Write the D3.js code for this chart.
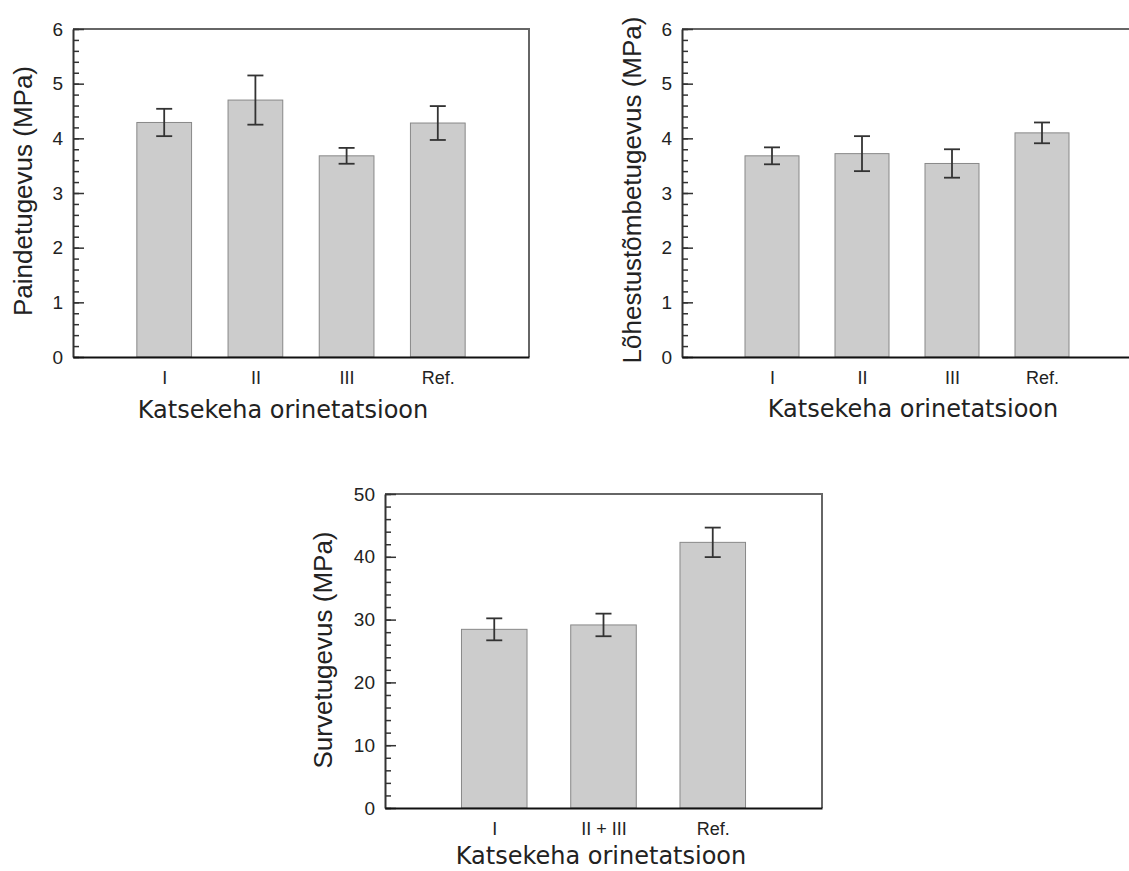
<!DOCTYPE html>
<html>
<head>
<meta charset="utf-8">
<script src="https://cdn.jsdelivr.net/npm/d3@7"></script>
<style>
  body { margin: 0; background: #fff; }
  .tick text { font-family: "Liberation Sans", Arial, sans-serif; fill: #222; }
  .ytitle { font-family: "Liberation Sans", Arial, sans-serif; font-size: 26px; fill: #222; }
  .xtitle { font-family: "DejaVu Sans", Verdana, sans-serif; font-size: 24px; fill: #222; }
</style>
</head>
<body>
<script>
// chart 1: bending strength
var bendCats = ["I", "II", "III", "Ref."];
var bendVals = [4.29, 4.70, 3.68, 4.28];
var bendErr = [0.25, 0.45, 0.145, 0.31];

// chart 2: splitting tensile strength
var splitCats = ["I", "II", "III", "Ref."];
var splitVals = [3.68, 3.72, 3.54, 4.10];
var splitErr = [0.155, 0.32, 0.26, 0.19];

// chart 3: compressive strength
var compCats = ["I", "II + III", "Ref."];
var compVals = [28.45, 29.15, 42.3];
var compErr = [1.75, 1.8, 2.35];

var yTicks6 = [0, 1, 2, 3, 4, 5, 6];
var yTicks50 = [0, 10, 20, 30, 40, 50];

var svg = d3.select("body").append("svg")
    .attr("width", 1129)
    .attr("height", 871);

function drawChart(opt) {
    var g = svg.append("g");
    var n = opt.cats.length;

    var x = d3.scaleLinear().domain([0, n + 1]).range([opt.left, opt.right]);
    var y = d3.scaleLinear().domain([0, opt.ymax]).range([opt.bottom, opt.top]);
    var barW = x(0.6) - x(0);

    // frame (top + right)
    g.append("path")
        .attr("d", "M" + opt.left + "," + opt.top + "H" + opt.right + "V" + opt.bottom)
        .attr("fill", "none")
        .attr("stroke", "#666")
        .attr("stroke-width", 2);

    // bars
    g.selectAll("rect.bar")
        .data(opt.vals)
        .enter()
        .append("rect")
        .attr("class", "bar")
        .attr("x", function(d, i) { return x(i + 1) - barW / 2; })
        .attr("y", function(d) { return y(d); })
        .attr("width", barW)
        .attr("height", function(d) { return y(0) - y(d); })
        .attr("fill", "#cccccc")
        .attr("stroke", "#888")
        .attr("stroke-width", 1);

    // error bars
    var capW = 8;
    var eb = g.selectAll("g.err")
        .data(opt.vals)
        .enter()
        .append("g")
        .attr("class", "err")
        .attr("stroke", "#333")
        .attr("stroke-width", 1.8);
    eb.append("line")
        .attr("x1", function(d, i) { return x(i + 1); })
        .attr("x2", function(d, i) { return x(i + 1); })
        .attr("y1", function(d, i) { return y(d + opt.err[i]); })
        .attr("y2", function(d, i) { return y(d - opt.err[i]); });
    eb.append("line")
        .attr("x1", function(d, i) { return x(i + 1) - capW; })
        .attr("x2", function(d, i) { return x(i + 1) + capW; })
        .attr("y1", function(d, i) { return y(d + opt.err[i]); })
        .attr("y2", function(d, i) { return y(d + opt.err[i]); });
    eb.append("line")
        .attr("x1", function(d, i) { return x(i + 1) - capW; })
        .attr("x2", function(d, i) { return x(i + 1) + capW; })
        .attr("y1", function(d, i) { return y(d - opt.err[i]); })
        .attr("y2", function(d, i) { return y(d - opt.err[i]); });

    // minor y ticks
    var minor = d3.range(0, opt.ymax + 1e-9, opt.ymax / (opt.yTicks.length - 1) / 5);
    g.append("g")
        .attr("transform", "translate(" + opt.left + ",0)")
        .call(d3.axisLeft(y).tickValues(minor).tickSizeInner(-6).tickSizeOuter(0).tickFormat(""))
        .call(function(a) {
            a.select(".domain").remove();
            a.selectAll(".tick line").attr("stroke", "#333").attr("stroke-width", 1.5);
        });

    // major y ticks + axis line
    g.append("g")
        .attr("transform", "translate(" + opt.left + ",0)")
        .call(d3.axisLeft(y).tickValues(opt.yTicks).tickSizeInner(-11).tickSizeOuter(0)
            .tickPadding(10).tickFormat(d3.format("d")))
        .call(function(a) {
            a.select(".domain").attr("stroke", "#333").attr("stroke-width", 2);
            a.selectAll(".tick line").attr("stroke", "#333").attr("stroke-width", 1.5);
            a.selectAll(".tick text").style("font-size", "19px");
        });

    // x axis
    g.append("g")
        .attr("transform", "translate(0," + opt.bottom + ")")
        .call(d3.axisBottom(x)
            .tickValues(d3.range(1, n + 1))
            .tickFormat(function(d) { return opt.cats[d - 1]; })
            .tickSize(0)
            .tickPadding(14))
        .call(function(a) {
            a.select(".domain").attr("stroke", "#111").attr("stroke-width", 2);
            a.selectAll(".tick text").style("font-size", "18px");
        });

    // titles
    g.append("text")
        .attr("class", "xtitle")
        .attr("x", opt.xTitleX)
        .attr("y", opt.bottom + opt.xTitleDy)
        .attr("text-anchor", "middle")
        .text("Katsekeha orinetatsioon");

    g.append("text")
        .attr("class", "ytitle")
        .attr("transform", "translate(" + opt.yTitleX + "," + opt.yTitleY + ") rotate(-90)")
        .attr("text-anchor", "middle")
        .text(opt.ytitle);
}

drawChart({
    cats: bendCats, vals: bendVals, err: bendErr,
    ymax: 6, yTicks: yTicks6,
    left: 73, right: 529, top: 29, bottom: 357,
    ytitle: "Paindetugevus (MPa)", yTitleX: 32, yTitleY: 191,
    xTitleX: 283, xTitleDy: 61
});

drawChart({
    cats: splitCats, vals: splitVals, err: splitErr,
    ymax: 6, yTicks: yTicks6,
    left: 682, right: 1132, top: 29, bottom: 357,
    ytitle: "Lõhestustõmbetugevus (MPa)", yTitleX: 641, yTitleY: 190,
    xTitleX: 913, xTitleDy: 60
});

drawChart({
    cats: compCats, vals: compVals, err: compErr,
    ymax: 50, yTicks: yTicks50,
    left: 385, right: 822, top: 494, bottom: 808,
    ytitle: "Survetugevus (MPa)", yTitleX: 332, yTitleY: 650,
    xTitleX: 601, xTitleDy: 56
});
</script>
</body>
</html>
